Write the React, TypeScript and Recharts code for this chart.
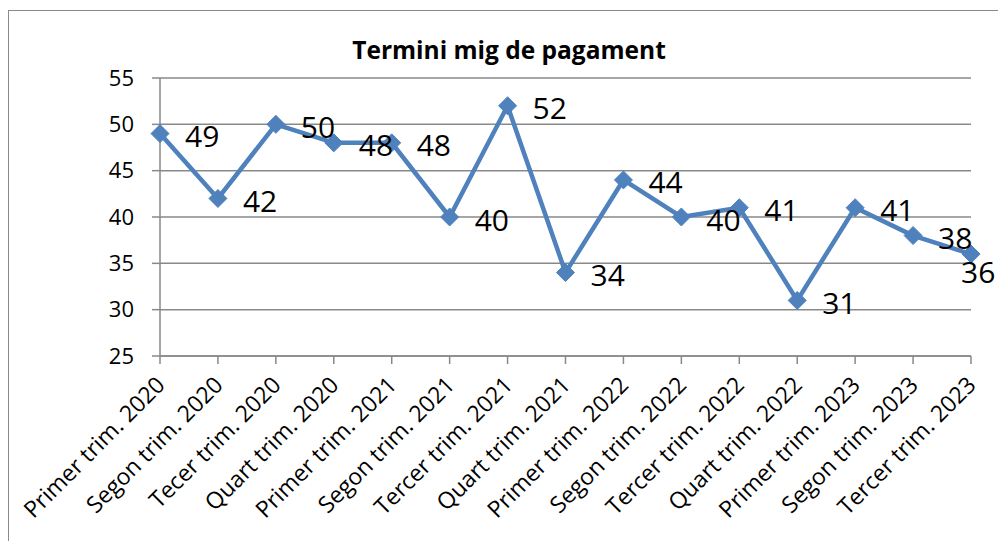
import React from 'react';
import { LineChart, CartesianGrid, XAxis, YAxis, Line, LabelList } from 'recharts';

const quarters: string[] = [
  'Primer trim. 2020',
  'Segon trim. 2020',
  'Tecer trim. 2020',
  'Quart trim. 2020',
  'Primer trim. 2021',
  'Segon trim. 2021',
  'Tercer trim. 2021',
  'Quart trim. 2021',
  'Primer trim. 2022',
  'Segon trim. 2022',
  'Tercer trim. 2022',
  'Quart trim. 2022',
  'Primer trim. 2023',
  'Segon trim. 2023',
  'Tercer trim. 2023',
];

const days: number[] = [49, 42, 50, 48, 48, 40, 52, 34, 44, 40, 41, 31, 41, 38, 36];

const yTicks: number[] = [25, 30, 35, 40, 45, 50, 55];

const title = 'Termini mig de pagament';

const data = quarters.map((q, i) => ({ quarter: q, value: days[i] }));

const FONT = '"Open Sans", Lato, sans-serif';
const BLUE = '#4F81BD';
const GRID = '#898989';

const XTick: React.FC<any> = ({ x, y, payload }) => (
  <text
    x={x}
    y={y}
    transform={`rotate(-45, ${x}, ${y})`}
    textAnchor="end"
    dominantBaseline="central"
    fontFamily={FONT}
    fontSize={23}
    fill="#000"
  >
    {payload.value}
  </text>
);

const Diamond: React.FC<any> = ({ cx, cy }) => {
  if (cx == null || cy == null) return null;
  const r = 9;
  return (
    <polygon
      points={`${cx},${cy - r} ${cx + r},${cy} ${cx},${cy + r} ${cx - r},${cy}`}
      fill={BLUE}
      stroke={BLUE}
    />
  );
};

// the last label is pulled left and down so it stays inside the chart
const ValueLabel: React.FC<any> = ({ x, y, value, index }) => {
  const last = index === days.length - 1;
  return (
    <text
      x={x + (last ? -10 : 25)}
      y={y + (last ? 17 : 2)}
      dominantBaseline="central"
      fontFamily={FONT}
      fontSize={30}
      fill="#000"
    >
      {value}
    </text>
  );
};

export default function App() {
  return (
    <div style={{ position: 'relative', width: 998, height: 541, overflow: 'hidden', background: '#fff' }}>
      <style>{'html,body{margin:0;padding:0;overflow:hidden}'}</style>
      <div
        style={{
          position: 'absolute',
          left: 8,
          top: 10,
          width: 1200,
          height: 800,
          borderLeft: `1.5px solid ${GRID}`,
          borderTop: `1.5px solid ${GRID}`,
        }}
      />
      <div
        style={{
          position: 'absolute',
          left: 0,
          width: 1018,
          top: 35,
          textAlign: 'center',
          fontFamily: FONT,
          fontWeight: 700,
          fontSize: 24.5,
          lineHeight: '30px',
          color: '#000',
        }}
      >
        {title}
      </div>
      <div style={{ position: 'absolute', left: 0, top: 0 }}>
        <LineChart width={998} height={541} data={data} margin={{ top: 78, right: 27, left: 0, bottom: 0 }}>
          <CartesianGrid vertical={false} stroke={GRID} strokeWidth={1.5} />
          <XAxis
            dataKey="quarter"
            interval={0}
            height={185}
            tickSize={8}
            tickMargin={16}
            stroke={GRID}
            strokeWidth={1.5}
            tick={<XTick />}
          />
          <YAxis
            domain={[25, 55]}
            ticks={yTicks}
            width={160}
            tickSize={8}
            tickMargin={18}
            stroke={GRID}
            strokeWidth={1.5}
            tick={{ fill: '#000', fontSize: 22, fontFamily: FONT }}
          />
          <Line
            type="linear"
            dataKey="value"
            stroke={BLUE}
            strokeWidth={4.5}
            dot={<Diamond />}
            activeDot={false}
            isAnimationActive={false}
          >
            <LabelList dataKey="value" content={<ValueLabel />} />
          </Line>
        </LineChart>
      </div>
    </div>
  );
}
